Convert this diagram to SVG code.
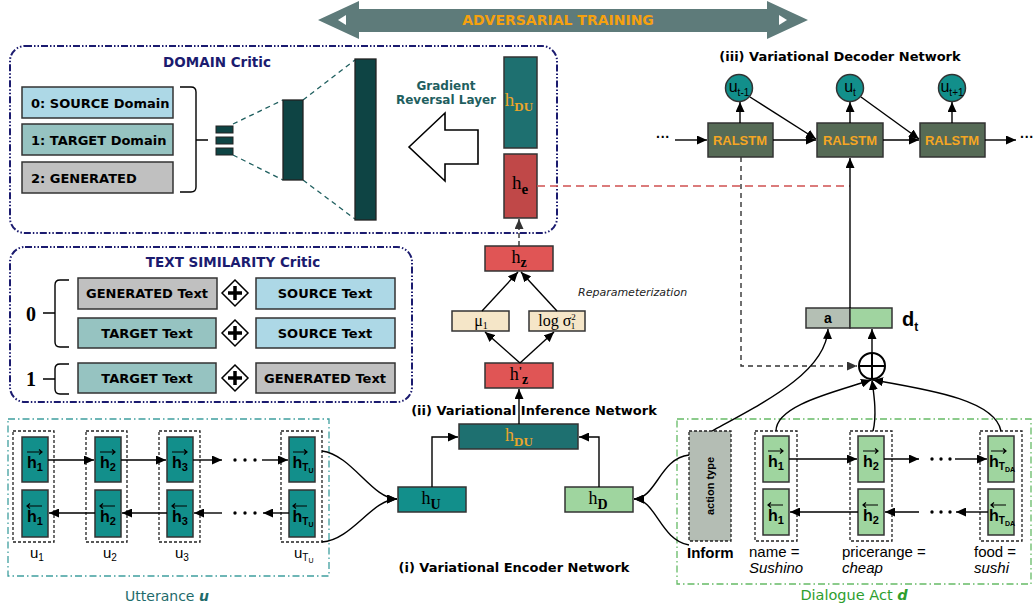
<svg xmlns="http://www.w3.org/2000/svg" width="1033" height="612" viewBox="0 0 1033 612">
<defs>
<marker id="ar" viewBox="0 0 10 9" refX="10" refY="4.5" markerWidth="10" markerHeight="9" markerUnits="userSpaceOnUse" orient="auto"><path d="M0,0 L10,4.5 L0,9 z" fill="#000"/></marker>
<marker id="ard" viewBox="0 0 10 9" refX="10" refY="4.5" markerWidth="10" markerHeight="9" markerUnits="userSpaceOnUse" orient="auto"><path d="M0,0 L10,4.5 L0,9 z" fill="#333"/></marker>
</defs>
<style>
.dj{font-family:"DejaVu Sans",sans-serif}
.b{font-weight:bold}
.ls{font-family:"Liberation Sans",Arial,sans-serif}
.sf{font-family:"Liberation Serif","Times New Roman",serif}
.ln{fill:none;stroke:#000;stroke-width:1.4}
.nd{stroke:#333;stroke-width:1.5}
.dot{fill:none;stroke:#222;stroke-width:1.3;stroke-dasharray:3,2}
.dotg{fill:#b4bdb4;stroke:#222;stroke-width:1.3;stroke-dasharray:3,2}
.navy{fill:none;stroke:#1b1b6f;stroke-width:2;stroke-dasharray:7,2,1.5,2,1.5,2}
.teal{fill:#128f8b}
.lg{fill:#9fd59f}
.ha{fill:none;stroke:#000;stroke-width:1.2}
.ct{font-family:"Liberation Sans",Arial,sans-serif;font-weight:bold;font-size:16px;fill:#000}
.lbl{font-family:"DejaVu Sans",sans-serif;font-weight:bold;font-size:13px;fill:#000}
</style>
<rect width="1033" height="612" fill="#fff"/>

<g id="adversarial-training">
<polygon points="318,20 359,1 359,9 767,9 767,1 808,20 767,39 767,32 359,32 359,39" fill="#5e7b7a"/>
<polygon points="338,20 346,15 346,25" fill="#fff"/>
<polygon points="787,20 779,15 779,25" fill="#fff"/>
<text x="558" y="25" text-anchor="middle" class="dj b" font-size="14" fill="#f5a10f">ADVERSARIAL TRAINING</text>
</g>

<g id="domain-critic">
<rect x="10" y="46" width="547" height="187" rx="15" class="navy"/>
<text x="217" y="67" text-anchor="middle" class="dj b" font-size="13.5" fill="#1b1b6f">DOMAIN Critic</text>
<rect x="22" y="87" width="151" height="31" fill="#add8e6" class="nd"/>
<text x="31" y="108" class="lbl">0: SOURCE Domain</text>
<rect x="22" y="124" width="151" height="31" fill="#96c3c1" class="nd"/>
<text x="31" y="145" class="lbl">1: TARGET Domain</text>
<rect x="22" y="162" width="151" height="31" fill="#c0c0c0" class="nd"/>
<text x="31" y="183" class="lbl">2: GENERATED</text>
<path d="M180 87 H191 Q196 87 196 92 V187 Q196 192 191 192 H180 M196 140 H208" class="ln" stroke="#222" stroke-width="1.6"/>
<rect x="216" y="126" width="17" height="7" fill="#0e4444" stroke="#222"/>
<rect x="216" y="137" width="17" height="7" fill="#0e4444" stroke="#222"/>
<rect x="216" y="148" width="17" height="7" fill="#0e4444" stroke="#222"/>
<path d="M233 124 L283 100 M233 155 L283 180 M303 100 L355 60 M303 180 L355 219" fill="none" stroke="#1f5f5f" stroke-width="1.3" stroke-dasharray="5,4"/>
<rect x="283" y="100" width="20" height="80" fill="#0e4444" stroke="#222" stroke-width="1.3"/>
<rect x="355" y="59" width="21" height="161" fill="#0e4444" stroke="#222" stroke-width="1.3"/>
<polygon points="409,147 445,113 445,130 478,130 478,164 445,164 445,181" fill="#fff" stroke="#000" stroke-width="1.6"/>
<text x="446" y="90" text-anchor="middle" class="dj b" font-size="12" fill="#1f5f5f">Gradient</text>
<text x="446" y="104" text-anchor="middle" class="dj b" font-size="12" fill="#1f5f5f">Reversal Layer</text>
</g>

<g id="h-du-top">
<rect x="504" y="57" width="33" height="91" fill="#1e7070" class="nd"/>
<text x="519" y="106" text-anchor="middle" class="sf" font-size="19" fill="#eaa52a">h<tspan dy="5" font-size="13" font-weight="bold">DU</tspan></text>
</g>
<g id="h-e">
<rect x="504" y="154" width="33" height="64" fill="#c04848" class="nd"/>
<text x="520" y="189" text-anchor="middle" class="sf" font-size="19" fill="#000">h<tspan dy="5" font-size="15" font-weight="bold">e</tspan></text>
</g>

<g id="text-similarity-critic">
<rect x="10" y="247" width="402" height="155" rx="15" class="navy"/>
<text x="233" y="267" text-anchor="middle" class="dj b" font-size="13.5" fill="#1b1b6f">TEXT SIMILARITY Critic</text>
<rect x="78" y="278" width="139" height="31" fill="#c0c0c0" class="nd"/>
<text x="147" y="298" text-anchor="middle" class="lbl">GENERATED Text</text>
<rect x="256" y="278" width="139" height="31" fill="#add8e6" class="nd"/>
<text x="325" y="298" text-anchor="middle" class="lbl">SOURCE Text</text>
<rect x="78" y="318" width="138" height="30" fill="#96c3c1" class="nd"/>
<text x="147" y="338" text-anchor="middle" class="lbl">TARGET Text</text>
<rect x="256" y="318" width="139" height="30" fill="#add8e6" class="nd"/>
<text x="325" y="338" text-anchor="middle" class="lbl">SOURCE Text</text>
<rect x="78" y="363" width="138" height="30" fill="#96c3c1" class="nd"/>
<text x="147" y="383" text-anchor="middle" class="lbl">TARGET Text</text>
<rect x="256" y="363" width="139" height="30" fill="#c0c0c0" class="nd"/>
<text x="325" y="383" text-anchor="middle" class="lbl">GENERATED Text</text>
<g stroke="#000">
<polygon points="235,280 248,293 235,306 222,293" fill="#fff" stroke-width="1.5"/>
<path d="M228 293 H242 M235 286 V300" stroke-width="3.5"/>
<polygon points="235,320 248,333 235,346 222,333" fill="#fff" stroke-width="1.5"/>
<path d="M228 333 H242 M235 326 V340" stroke-width="3.5"/>
<polygon points="235,365 248,378 235,391 222,378" fill="#fff" stroke-width="1.5"/>
<path d="M228 378 H242 M235 371 V385" stroke-width="3.5"/>
</g>
<path d="M69 280 H60 Q55 280 55 285 V342 Q55 347 60 347 H69 M55 313 H43" class="ln" stroke-width="1.6"/>
<path d="M69 364 H60 Q55 364 55 369 V389 Q55 394 60 394 H69 M55 379 H43" class="ln" stroke-width="1.6"/>
<text x="31" y="321" text-anchor="middle" class="sf b" font-size="20">0</text>
<text x="31" y="386" text-anchor="middle" class="sf b" font-size="20">1</text>
</g>

<g id="variational-inference">
<rect x="485" y="246" width="68" height="25" fill="#e05555" class="nd"/>
<text x="519" y="263" text-anchor="middle" class="sf" font-size="18">h<tspan dy="4" font-size="14" font-weight="bold">z</tspan></text>
<rect x="452" y="311" width="57" height="20" fill="#f5e6c8" class="nd"/>
<text x="481" y="326" text-anchor="middle" class="sf" font-size="16">μ<tspan dy="3" font-size="10">1</tspan></text>
<rect x="529" y="311" width="56" height="20" fill="#f5e6c8" class="nd"/>
<text x="557" y="326" text-anchor="middle" class="sf" font-size="16">log σ<tspan dy="-6" font-size="9">2</tspan><tspan dx="-5" dy="9" font-size="9">1</tspan></text>
<rect x="485" y="363" width="68" height="25" fill="#e05555" class="nd"/>
<text x="519" y="380" text-anchor="middle" class="sf" font-size="18">h<tspan dy="-5" font-size="12" font-weight="bold">'</tspan><tspan dy="9" font-size="14" font-weight="bold">z</tspan></text>
<text x="578" y="296" class="dj" font-size="11" font-style="italic" fill="#222">Reparameterization</text>
<text x="534" y="415" text-anchor="middle" class="dj b" font-size="13">(ii) Variational Inference Network</text>
</g>

<g id="h-du-bottom">
<rect x="459" y="424" width="119" height="25" fill="#1e7070" class="nd"/>
<text x="519" y="441" text-anchor="middle" class="sf" font-size="18" fill="#eaa52a">h<tspan dy="5" font-size="13" font-weight="bold">DU</tspan></text>
</g>
<g id="h-u">
<rect x="398" y="487" width="68" height="25" fill="#128f8b" class="nd"/>
<text x="431" y="504" text-anchor="middle" class="sf" font-size="18">h<tspan dy="5" font-size="14" font-weight="bold">U</tspan></text>
</g>
<g id="h-d">
<rect x="565" y="487" width="68" height="25" fill="#9fd59f" class="nd"/>
<text x="598" y="504" text-anchor="middle" class="sf" font-size="18">h<tspan dy="5" font-size="14" font-weight="bold">D</tspan></text>
</g>
<text x="514" y="572" text-anchor="middle" class="dj b" font-size="13">(i) Variational Encoder Network</text>

<g id="utterance">
<rect x="8" y="419" width="321" height="157" fill="none" stroke="#3f9f9f" stroke-width="1.3" stroke-dasharray="7,3,1.5,3"/>
<text x="167" y="601" text-anchor="middle" class="dj" font-size="14" fill="#1e6b6b">Utterance <tspan font-weight="bold" font-style="italic">u</tspan></text>
<g id="u1">
<rect x="13" y="431" width="41" height="111" class="dot"/>
<rect x="22" y="437" width="26" height="45" class="teal nd"/>
<rect x="22" y="490" width="26" height="47" class="teal nd"/>
<text x="35" y="468" text-anchor="middle" class="ct">h<tspan dy="3" font-size="11">1</tspan></text>
<path d="M27 452 H42 M39 449.5 L42 452 L39 454.5" class="ha"/>
<text x="35" y="522" text-anchor="middle" class="ct">h<tspan dy="3" font-size="11">1</tspan></text>
<path d="M27 506 H42 M30 503.5 L27 506 L30 508.5" class="ha"/>
<text x="30" y="558" class="ls" font-size="15">u<tspan dy="3" font-size="10">1</tspan></text>
</g>
<g id="u2">
<rect x="86" y="431" width="41" height="111" class="dot"/>
<rect x="95" y="437" width="26" height="45" class="teal nd"/>
<rect x="95" y="490" width="26" height="47" class="teal nd"/>
<text x="108" y="468" text-anchor="middle" class="ct">h<tspan dy="3" font-size="11">2</tspan></text>
<path d="M100 452 H115 M112 449.5 L115 452 L112 454.5" class="ha"/>
<text x="108" y="522" text-anchor="middle" class="ct">h<tspan dy="3" font-size="11">2</tspan></text>
<path d="M100 506 H115 M103 503.5 L100 506 L103 508.5" class="ha"/>
<text x="103" y="558" class="ls" font-size="15">u<tspan dy="3" font-size="10">2</tspan></text>
</g>
<g id="u3">
<rect x="159" y="431" width="41" height="111" class="dot"/>
<rect x="167" y="437" width="26" height="45" class="teal nd"/>
<rect x="167" y="490" width="26" height="47" class="teal nd"/>
<text x="180" y="468" text-anchor="middle" class="ct">h<tspan dy="3" font-size="11">3</tspan></text>
<path d="M172 452 H187 M184 449.5 L187 452 L184 454.5" class="ha"/>
<text x="180" y="522" text-anchor="middle" class="ct">h<tspan dy="3" font-size="11">3</tspan></text>
<path d="M172 506 H187 M175 503.5 L172 506 L175 508.5" class="ha"/>
<text x="175" y="558" class="ls" font-size="15">u<tspan dy="3" font-size="10">3</tspan></text>
</g>
<g id="uTU">
<rect x="281" y="431" width="41" height="111" class="dot"/>
<rect x="289" y="437" width="26" height="45" class="teal nd"/>
<rect x="289" y="490" width="26" height="47" class="teal nd"/>
<text x="303" y="468" text-anchor="middle" class="ct">h<tspan dy="3" font-size="10">T</tspan><tspan dy="2" font-size="7">U</tspan></text>
<path d="M293 452 H307 M304 449.5 L307 452 L304 454.5" class="ha"/>
<text x="303" y="522" text-anchor="middle" class="ct">h<tspan dy="3" font-size="10">T</tspan><tspan dy="2" font-size="7">U</tspan></text>
<path d="M293 506 H307 M296 503.5 L293 506 L296 508.5" class="ha"/>
<text x="294" y="558" class="ls" font-size="15">u<tspan dy="3" font-size="10">T</tspan><tspan dy="2" font-size="7">U</tspan></text>
</g>
<g fill="#000">
<circle cx="235" cy="460" r="1.7"/><circle cx="245" cy="460" r="1.7"/><circle cx="255" cy="460" r="1.7"/>
<circle cx="235" cy="513" r="1.7"/><circle cx="245" cy="513" r="1.7"/><circle cx="255" cy="513" r="1.7"/>
</g>
</g>

<g id="dialogue-act">
<rect x="677" y="419" width="354" height="165" fill="none" stroke="#66bb66" stroke-width="1.3" stroke-dasharray="7,3,1.5,3"/>
<text x="854" y="600" text-anchor="middle" class="dj" font-size="14.5" fill="#2e9e2e">Dialogue Act <tspan font-weight="bold" font-style="italic">d</tspan></text>
<g id="action-type">
<rect x="689" y="431" width="42" height="110" class="dotg"/>
<text transform="translate(714,486) rotate(-90)" text-anchor="middle" class="ls b" font-size="11">action type</text>
<text x="687" y="558" class="ls b" font-size="15">Inform</text>
</g>
<g id="d1">
<rect x="755" y="431" width="42" height="110" class="dot"/>
<rect x="763" y="436" width="26" height="46" class="lg nd"/>
<rect x="763" y="489" width="26" height="46" class="lg nd"/>
<text x="776" y="467" text-anchor="middle" class="ct">h<tspan dy="3" font-size="11">1</tspan></text>
<path d="M768 451 H783 M780 448.5 L783 451 L780 453.5" class="ha"/>
<text x="776" y="521" text-anchor="middle" class="ct">h<tspan dy="3" font-size="11">1</tspan></text>
<path d="M768 505 H783 M771 502.5 L768 505 L771 507.5" class="ha"/>
<text x="749" y="557" class="ls" font-size="15">name =</text>
<text x="749" y="573" class="ls" font-size="15" font-style="italic">Sushino</text>
</g>
<g id="d2">
<rect x="850" y="431" width="42" height="110" class="dot"/>
<rect x="858" y="436" width="26" height="46" class="lg nd"/>
<rect x="858" y="489" width="26" height="46" class="lg nd"/>
<text x="871" y="467" text-anchor="middle" class="ct">h<tspan dy="3" font-size="11">2</tspan></text>
<path d="M863 451 H878 M875 448.5 L878 451 L875 453.5" class="ha"/>
<text x="871" y="521" text-anchor="middle" class="ct">h<tspan dy="3" font-size="11">2</tspan></text>
<path d="M863 505 H878 M866 502.5 L863 505 L866 507.5" class="ha"/>
<text x="842" y="557" class="ls" font-size="15">pricerange =</text>
<text x="842" y="573" class="ls" font-size="15" font-style="italic">cheap</text>
</g>
<g id="dT">
<rect x="980" y="431" width="42" height="110" class="dot"/>
<rect x="988" y="436" width="26" height="46" class="lg nd"/>
<rect x="988" y="489" width="26" height="46" class="lg nd"/>
<text x="1002" y="467" text-anchor="middle" class="ct">h<tspan dy="3" font-size="10">T</tspan><tspan dy="2" font-size="7">DA</tspan></text>
<path d="M991 451 H1006 M1003 448.5 L1006 451 L1003 453.5" class="ha"/>
<text x="1002" y="521" text-anchor="middle" class="ct">h<tspan dy="3" font-size="10">T</tspan><tspan dy="2" font-size="7">DA</tspan></text>
<path d="M991 505 H1006 M994 502.5 L991 505 L994 507.5" class="ha"/>
<text x="974" y="557" class="ls" font-size="15">food =</text>
<text x="974" y="573" class="ls" font-size="15" font-style="italic">sushi</text>
</g>
<g fill="#000">
<circle cx="932" cy="459" r="1.7"/><circle cx="941" cy="459" r="1.7"/><circle cx="950" cy="459" r="1.7"/>
<circle cx="932" cy="512" r="1.7"/><circle cx="941" cy="512" r="1.7"/><circle cx="950" cy="512" r="1.7"/>
</g>
</g>

<g id="decoder">
<text x="840" y="61" text-anchor="middle" class="dj b" font-size="13">(iii) Variational Decoder Network</text>
<g id="ralstm1"><rect x="708" y="123" width="65" height="34" fill="#566b56" class="nd"/><text x="740" y="145" text-anchor="middle" class="ls b" font-size="13" fill="#f5a623">RALSTM</text></g>
<g id="ralstm2"><rect x="817" y="123" width="66" height="34" fill="#566b56" class="nd"/><text x="850" y="145" text-anchor="middle" class="ls b" font-size="13" fill="#f5a623">RALSTM</text></g>
<g id="ralstm3"><rect x="920" y="123" width="65" height="34" fill="#566b56" class="nd"/><text x="952" y="145" text-anchor="middle" class="ls b" font-size="13" fill="#f5a623">RALSTM</text></g>
<g id="ut-1"><circle cx="739" cy="88" r="13.5" fill="#128f8b" class="nd"/><text x="739" y="92" text-anchor="middle" class="ls" font-size="16">u<tspan dy="4" font-size="10">t-1</tspan></text></g>
<g id="ut"><circle cx="850" cy="88" r="13.5" fill="#128f8b" class="nd"/><text x="850" y="92" text-anchor="middle" class="ls" font-size="16">u<tspan dy="4" font-size="10">t</tspan></text></g>
<g id="ut+1"><circle cx="952" cy="88" r="13.5" fill="#128f8b" class="nd"/><text x="952" y="92" text-anchor="middle" class="ls" font-size="16">u<tspan dy="4" font-size="10">t+1</tspan></text></g>
<text x="663" y="142" text-anchor="middle" class="ls b" font-size="14">···</text>
<text x="1027" y="142" text-anchor="middle" class="ls b" font-size="14">···</text>
</g>

<g id="concat-dt">
<rect x="806" y="308" width="44" height="20" fill="#b4bfb4" class="nd"/>
<text x="828" y="323" text-anchor="middle" class="ls b" font-size="14">a</text>
<rect x="850" y="308" width="42" height="20" fill="#a0d4a0" class="nd"/>
<text x="902" y="326" class="ls b" font-size="20">d<tspan dy="5" font-size="12">t</tspan></text>
</g>
<g id="oplus">
<circle cx="872" cy="366" r="13" fill="#fff" stroke="#000" stroke-width="2"/>
<path d="M859 366 H885 M872 353 V379" stroke="#000" stroke-width="2"/>
</g>

<g id="connectors">
<path d="M519 246 V219" fill="none" stroke="#333" stroke-width="1.4" stroke-dasharray="5,3" marker-end="url(#ard)"/>
<path d="M537 186 H850" fill="none" stroke="#d05050" stroke-width="1.3" stroke-dasharray="8,5"/>
<path d="M520 363 L485 332" class="ln" marker-end="url(#ar)"/>
<path d="M520 363 L554 332" class="ln" marker-end="url(#ar)"/>
<path d="M482 311 L518 272" class="ln" marker-end="url(#ar)"/>
<path d="M557 311 L521 272" class="ln" marker-end="url(#ar)"/>
<path d="M519 424 V389" class="ln" marker-end="url(#ar)"/>
<path d="M432 487 V437 H458" class="ln" marker-end="url(#ar)"/>
<path d="M599 487 V437 H579" class="ln" marker-end="url(#ar)"/>
<path d="M322 451 C352 455, 372 499, 397 499" class="ln" marker-end="url(#ar)"/>
<path d="M322 542 C352 540, 372 499, 397 499" class="ln" marker-end="url(#ar)"/>
<path d="M689 455 C660 458, 656 499, 634 499" class="ln" marker-end="url(#ar)"/>
<path d="M689 545 C660 540, 656 499, 634 499" class="ln" marker-end="url(#ar)"/>
<path d="M48 460 H94" class="ln" marker-end="url(#ar)"/>
<path d="M121 460 H166" class="ln" marker-end="url(#ar)"/>
<path d="M193 460 H222" class="ln" marker-end="url(#ar)"/>
<path d="M262 460 H288" class="ln" marker-end="url(#ar)"/>
<path d="M95 513 H49" class="ln" marker-end="url(#ar)"/>
<path d="M167 513 H122" class="ln" marker-end="url(#ar)"/>
<path d="M222 513 H194" class="ln" marker-end="url(#ar)"/>
<path d="M289 513 H263" class="ln" marker-end="url(#ar)"/>
<path d="M789 459 H857" class="ln" marker-end="url(#ar)"/>
<path d="M884 459 H919" class="ln" marker-end="url(#ar)"/>
<path d="M955 459 H987" class="ln" marker-end="url(#ar)"/>
<path d="M858 512 H790" class="ln" marker-end="url(#ar)"/>
<path d="M919 512 H885" class="ln" marker-end="url(#ar)"/>
<path d="M988 512 H956" class="ln" marker-end="url(#ar)"/>
<path d="M740 123 V102" class="ln" marker-end="url(#ar)"/>
<path d="M850 123 V102" class="ln" marker-end="url(#ar)"/>
<path d="M952 123 V102" class="ln" marker-end="url(#ar)"/>
<path d="M675 140 H707" class="ln" marker-end="url(#ar)"/>
<path d="M773 140 H816" class="ln" marker-end="url(#ar)"/>
<path d="M883 140 H919" class="ln" marker-end="url(#ar)"/>
<path d="M985 140 H1016" class="ln" marker-end="url(#ar)"/>
<path d="M750 97 L816 139" class="ln" marker-end="url(#ar)"/>
<path d="M861 97 L919 139" class="ln" marker-end="url(#ar)"/>
<path d="M850 308 V158" class="ln" marker-end="url(#ar)"/>
<path d="M741 157 V366 H857" fill="none" stroke="#333" stroke-width="1.4" stroke-dasharray="5,4" marker-end="url(#ard)"/>
<path d="M872 353 V329" class="ln" marker-end="url(#ar)"/>
<path d="M712 431 C765 402, 826 372, 828 329" class="ln" marker-end="url(#ar)"/>
<path d="M776 431 C776 405, 835 392, 871 380" class="ln" marker-end="url(#ar)"/>
<path d="M873 431 C877 415, 874 395, 872 380" class="ln" marker-end="url(#ar)"/>
<path d="M1001 431 C995 400, 930 390, 873 380" class="ln" marker-end="url(#ar)"/>
</g>
</svg>
